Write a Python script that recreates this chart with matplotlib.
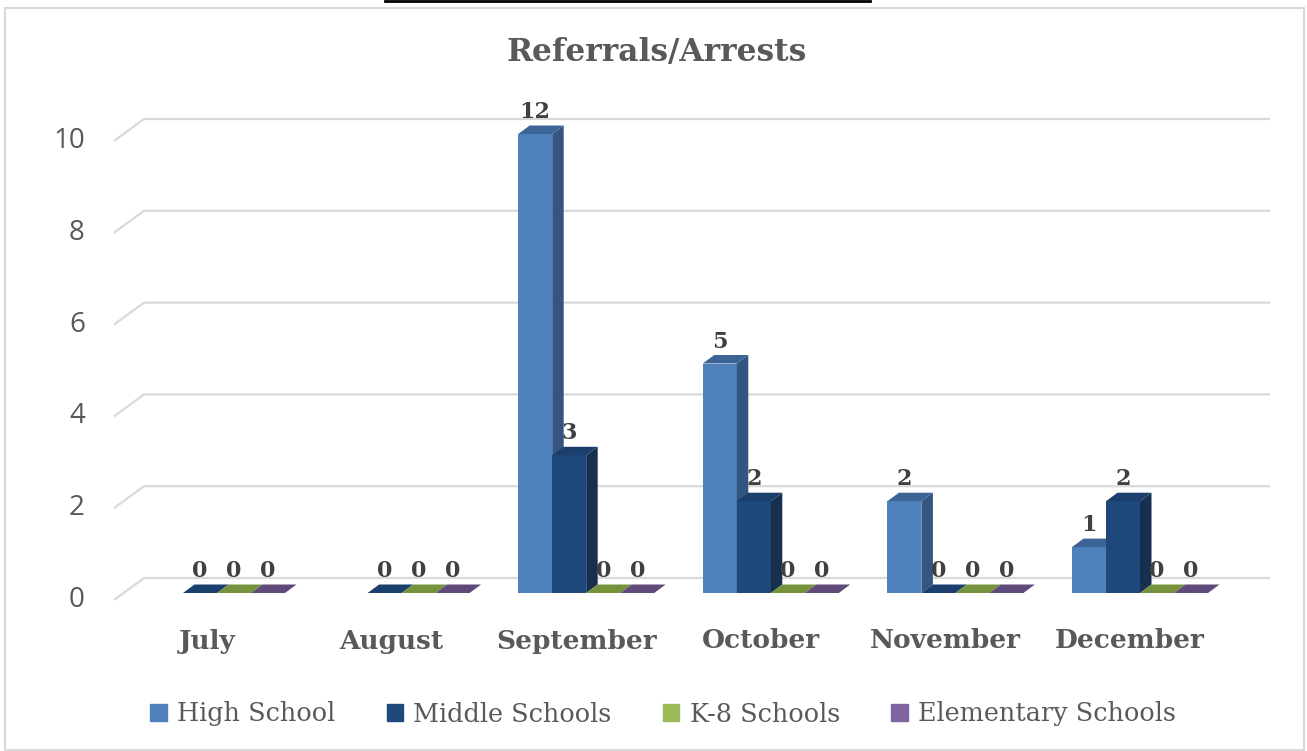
import numpy as np
import matplotlib
matplotlib.use('Agg')
import matplotlib.pyplot as plt
from matplotlib.patches import Polygon, Rectangle
from matplotlib.lines import Line2D

# Data
months = ['July', 'August', 'September', 'October', 'November', 'December']
series = ['High School', 'Middle Schools', 'K-8 Schools', 'Elementary Schools']
high_school = [np.nan, np.nan, 12, 5, 2, 1]
middle_schools = [0, 0, 3, 2, 0, 2]
k8_schools = [0, 0, 0, 0, 0, 0]
elementary_schools = [0, 0, 0, 0, 0, 0]
y_ticks = [0, 2, 4, 6, 8, 10]
y_max = 10

values = [high_school, middle_schools, k8_schools, elementary_schools]
# front, top, side colours per series
colors = [('#4f81bd', '#3c6496', '#34557f'),
          ('#1f497d', '#1b3f6c', '#17304f'),
          ('#9bbb59', '#76923c', '#637b32'),
          ('#8064a2', '#5f4a7a', '#4f3d66')]

W, H = 1307, 751
fig = plt.figure(figsize=(W / 100, H / 100), dpi=100)

# axes area (pixels): x 100..1290, y 100..610
ax = fig.add_axes([100 / W, 1 - 610 / H, 1190 / W, 510 / H])
px_x = 184.6   # pixels per category
px_y = 45.9    # pixels per unit
ax.set_xlim((100 - 217) / px_x, (1290 - 217) / px_x)
ax.set_ylim((593 - 610) / px_y, (593 - 100) / px_y)
ax.axis('off')

grid_c = '#d9d9d9'
text_c = '#595959'
label_c = '#404040'

# perspective offsets (data units)
wall_dy_back = 15 / px_y
wall_dy_front = -7 / px_y
wall_x_back = (144 - 217) / px_x
wall_x_front = (114 - 217) / px_x
wall_x_right = (1270 - 217) / px_x
for t in y_ticks:
    ax.plot([wall_x_front, wall_x_back, wall_x_right],
            [t + wall_dy_front, t + wall_dy_back, t + wall_dy_back],
            color=grid_c, lw=1.6, zorder=1, solid_capstyle='butt')
    ax.text(wall_x_front - 29 / px_x, t + wall_dy_front, str(t), ha='right', va='center',
            fontsize=20, color=text_c, family='Open Sans')

# bars
bw = 34 / px_x
ddx = 11.5 / px_x
ddy = 8.5 / px_y
offsets = [-1.5, -0.5, 0.5, 1.5]
for i in range(len(months)):
    for s in range(len(series)):
        v = values[s][i]
        if np.isnan(v):
            continue
        h = min(v, y_max)
        x0 = i + offsets[s] * bw - bw / 2
        x1 = x0 + bw
        fc, tc, sc = colors[s]
        if h > 0:
            ax.bar(x0, h, width=bw, align='edge', color=fc, zorder=3, lw=0)
            ax.add_patch(Polygon([(x1, 0), (x1 + ddx, ddy), (x1 + ddx, h + ddy), (x1, h)],
                                 closed=True, color=sc, zorder=3, lw=0))
        ax.add_patch(Polygon([(x0, h), (x1, h), (x1 + ddx, h + ddy), (x0 + ddx, h + ddy)],
                             closed=True, color=tc, zorder=3, lw=0))
        ax.annotate('%d' % v, xy=(x0 + bw / 2, h + ddy), xytext=(0, 5.4),
                    textcoords='offset points', ha='center', va='baseline',
                    fontsize=16, fontweight='bold', color=label_c,
                    family='DejaVu Serif', zorder=5)

# category labels
for i, m in enumerate(months):
    ax.text(i - 10 / px_x, (593 - 641) / px_y, m, ha='center', va='center',
            fontsize=19, fontweight='bold', color=text_c, family='DejaVu Serif')

# title
fig.text(657 / W, 1 - 52 / H, 'Referrals/Arrests', ha='center', va='center',
         fontsize=22.5, fontweight='bold', color=text_c, family='DejaVu Serif')

# legend
handles = [Rectangle((0, 0), 1, 1, color=c[0]) for c in colors]
leg = fig.legend(handles, series, loc='center', bbox_to_anchor=(663 / W, 1 - 714 / H),
                 ncol=4, frameon=False, handlelength=0.65, handleheight=0.65,
                 handletextpad=0.4, columnspacing=2.0,
                 prop={'family': 'DejaVu Serif', 'size': 18.4})
for t in leg.get_texts():
    t.set_color(text_c)

# chart border and line above
fig.add_artist(Rectangle((5 / W, 1 / H), 1299 / W, 742 / H, transform=fig.transFigure,
                         fill=False, edgecolor=grid_c, lw=1.5))
fig.add_artist(Line2D([385 / W, 870 / W], [1 - 1 / H, 1 - 1 / H], transform=fig.transFigure,
                      color='black', lw=2))

fig.savefig('out.png', dpi=100)
